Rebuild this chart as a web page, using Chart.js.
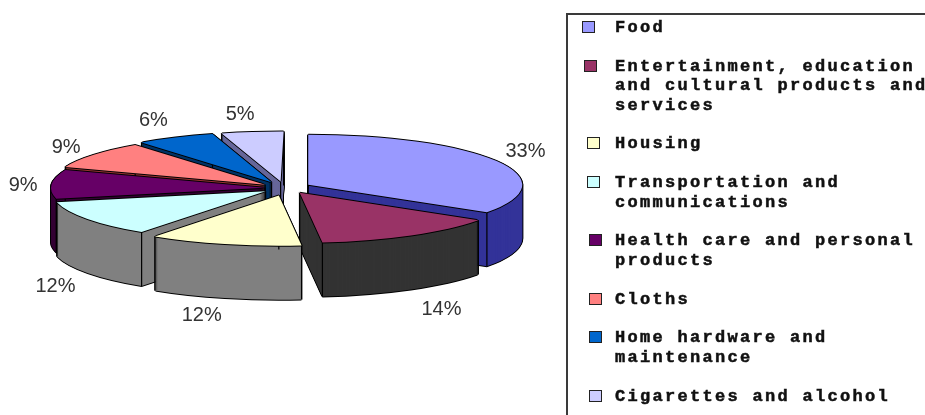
<!DOCTYPE html>
<html>
<head>
<meta charset="utf-8">
<script src="https://cdn.jsdelivr.net/npm/chart.js@4"></script>
<style>
html,body{margin:0;padding:0;background:#fff;width:925px;height:415px;overflow:hidden}
#wrap{position:relative;width:925px;height:415px;overflow:hidden}
canvas{position:absolute;left:0;top:0}
#legend{position:absolute;left:566px;top:13px;width:400px;height:440px;border:2px solid #3a3a3a;box-sizing:border-box}
.ln{position:absolute;left:47px;white-space:pre;font:bold 17px/20px "Liberation Mono",monospace;letter-spacing:2.3px;color:#111;-webkit-text-stroke:0.5px #111}
.sw{position:absolute;width:11px;height:10px;border:1.5px solid #222}
</style>
</head>
<body>
<div id="wrap">
<canvas id="c" width="925" height="415"></canvas>
<div id="legend"></div>
</div>
<script>
const categories = ["Food","Entertainment, education and cultural products and services","Housing","Transportation and communications","Health care and personal products","Cloths","Home hardware and maintenance","Cigarettes and alcohol"];
const legendLines = [["Food"],["Entertainment, education","and cultural products and","services"],["Housing"],["Transportation and","communications"],["Health care and personal","products"],["Cloths"],["Home hardware and","maintenance"],["Cigarettes and alcohol"]];
const shares = [33,14,12,12,9,9,6,5];
const topColors = ["#9999FF","#993366","#FFFFCC","#CCFFFF","#660066","#FF8080","#0066CC","#CCCCFF"];
const wallColors = ["#333399","#333333","#808080","#808080","#330033","#993333","#003366","#666699"];
const explode = [27,25,33,24,20,24,28,28];
const paintOrder = [7,6,5,4,3,0,1,2];
const perspectiveDegrees = [0,4.6,4.7,3,1.7,3,2.2,2,0.8];
const labelNudgeX = [33,16,-37,-37,-28,-22,-15,-7];
const labelNudgeY = [-8,76,71,66,-1,-9,-18,-18];
const swatchLeft = [14,16,19,19,21,21,21,21];

const TILT = 0.234, DEPTH = 54, RADIUS = 214;

const pie3d = {
  id:'pie3d',
  beforeDatasetDraw(chart){
    const ctx = chart.ctx, meta = chart.getDatasetMeta(0);
    const cx = meta.data[0].x, cy = meta.data[0].y;
    const rad = d => d*Math.PI/180;
    const paint = (arc,i,color,ox,oy)=>{
      const saved = arc.options, s0 = arc.startAngle, e0 = arc.endAngle;
      const mid = (s0+e0)/2;
      arc.options = {backgroundColor:color,borderColor:color,borderWidth:0,borderAlign:'center',offset:0,spacing:0,circular:true,borderRadius:0,borderJoinStyle:'round',selfJoin:false};
      arc.startAngle = s0+rad(perspectiveDegrees[i]);
      arc.endAngle = e0+rad(perspectiveDegrees[i+1]);
      ctx.save();
      ctx.translate(ox,oy);
      ctx.translate(cx,cy);
      ctx.scale(1,TILT);
      ctx.translate(-cx,-cy);
      ctx.translate(Math.cos(mid)*explode[i],Math.sin(mid)*explode[i]);
      arc.draw(ctx);
      ctx.restore();
      arc.options = saved; arc.startAngle = s0; arc.endAngle = e0;
    };
    paintOrder.forEach(i=>{
      const arc = meta.data[i];
      for(let j=DEPTH;j>=0;j--){ paint(arc,i,'#000',-1,j); paint(arc,i,'#000',1,j); }
      paint(arc,i,'#000',0,DEPTH+1);
      for(let j=DEPTH;j>=1;j--){ paint(arc,i,wallColors[i],0,j); }
      const mid = (arc.startAngle+arc.endAngle)/2;
      const ax = cx+Math.cos(mid)*explode[i], ay = cy+Math.sin(mid)*explode[i]*TILT;
      const a1 = arc.startAngle+rad(perspectiveDegrees[i]), a2 = arc.endAngle+rad(perspectiveDegrees[i+1]);
      const pts = [[ax,ay],
        [ax+Math.cos(a1)*arc.outerRadius, ay+Math.sin(a1)*arc.outerRadius*TILT],
        [ax+Math.cos(a2)*arc.outerRadius, ay+Math.sin(a2)*arc.outerRadius*TILT]];
      ctx.save();
      ctx.strokeStyle='#000';ctx.lineWidth=1.2;
      pts.forEach(p=>{ctx.beginPath();ctx.moveTo(p[0],p[1]);ctx.lineTo(p[0],p[1]+DEPTH);ctx.stroke();});
      ctx.restore();
      paint(arc,i,'#000',-1,0);paint(arc,i,'#000',1,0);paint(arc,i,'#000',0,-1);paint(arc,i,'#000',0,1);
      paint(arc,i,topColors[i],0,0);
    });
    ctx.save();
    ctx.font='20px "Liberation Sans",Arial,sans-serif';
    ctx.fillStyle='#333';ctx.textAlign='center';ctx.textBaseline='middle';
    const total = shares.reduce((a,b)=>a+b,0);
    shares.forEach((v,i)=>{
      const arc = meta.data[i], mid=(arc.startAngle+arc.endAngle)/2, r=explode[i]+arc.outerRadius;
      ctx.fillText(Math.round(v/total*100)+'%', cx+Math.cos(mid)*r+labelNudgeX[i], cy+Math.sin(mid)*r*TILT+labelNudgeY[i]);
    });
    ctx.restore();
    return false;
  }
};

new Chart(document.getElementById('c'),{
  type:'pie',
  data:{labels:categories,datasets:[{data:shares,backgroundColor:topColors,borderWidth:0}]},
  options:{
    responsive:false,animation:false,radius:RADIUS,
    layout:{padding:{left:0,top:0,right:355,bottom:39}},
    plugins:{legend:{display:false},tooltip:{enabled:false}}
  },
  plugins:[pie3d]
});

const legend = document.getElementById('legend');
let row = 0;
const ROW = 19.4, FIRST = 27-13-1;
legendLines.forEach((lines,i)=>{
  const sw = document.createElement('div');
  sw.className='sw';
  sw.style.left = swatchLeft[i]+'px';
  sw.style.top = (FIRST+row*ROW-7)+'px';
  sw.style.background = topColors[i];
  legend.appendChild(sw);
  lines.forEach(t=>{
    const d = document.createElement('div');
    d.className='ln';d.textContent=t;
    d.style.top = (FIRST+row*ROW-10)+'px';
    legend.appendChild(d);
    row++;
  });
  row++;
});
</script>
</body>
</html>
